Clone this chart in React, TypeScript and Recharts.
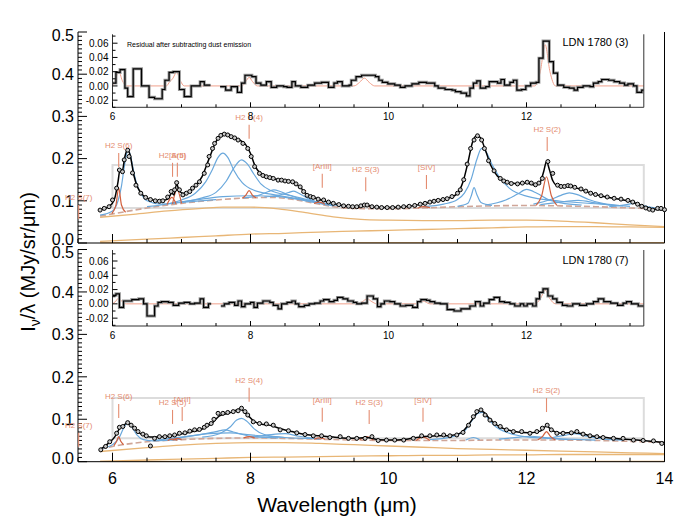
import React from "react";
import { ComposedChart, Line, Scatter, XAxis, YAxis, ReferenceArea } from "recharts";

type Pt = [number, number | null];
const font = "'Liberation Sans', Arial, Helvetica, sans-serif";

// ---------- axis ticks ----------
const xMainTicks = [5.5, 6, 6.5, 7, 7.5, 8, 8.5, 9, 9.5, 10, 10.5, 11, 11.5, 12, 12.5, 13, 13.5, 14];
const xMainLabels = [6, 8, 10, 12, 14];
const xInsetTicks = [6, 6.5, 7, 7.5, 8, 8.5, 9, 9.5, 10, 10.5, 11, 11.5, 12, 12.5, 13, 13.5];
const xInsetLabels = [6, 8, 10, 12];
const yMainLabels = [0, 0.1, 0.2, 0.3, 0.4, 0.5];
const yMainTicks = Array.from({ length: 51 }, (_, i) => i / 100);
const yInsetLabels = [-0.02, 0, 0.02, 0.04, 0.06];
const yInsetTicks = [-0.03, -0.02, -0.01, 0, 0.01, 0.02, 0.03, 0.04, 0.05, 0.06, 0.07];

// ---------- LDN 1780 (3) ----------
const topPoints: Pt[] = [
  [5.82, 0.078], [5.88, 0.082], [5.95, 0.086], [6.0, 0.102], [6.06, 0.13], [6.1, 0.173], [6.145, 0.169],
  [6.17, 0.197], [6.22, 0.22], [6.24, 0.205], [6.29, 0.166], [6.34, 0.137], [6.41, 0.118], [6.48, 0.108],
  [6.55, 0.103], [6.62, 0.1], [6.68, 0.099], [6.73, 0.1], [6.8, 0.109], [6.85, 0.122], [6.9, 0.126],
  [6.93, 0.143], [6.97, 0.126], [7.02, 0.114], [7.07, 0.118], [7.12, 0.122], [7.16, 0.13], [7.21, 0.137],
  [7.26, 0.145], [7.33, 0.165], [7.38, 0.185], [7.4, 0.205], [7.45, 0.224], [7.48, 0.236], [7.53, 0.248],
  [7.57, 0.255], [7.62, 0.258], [7.67, 0.256], [7.72, 0.252], [7.77, 0.249], [7.82, 0.244], [7.89, 0.236],
  [7.96, 0.224], [8.01, 0.205], [8.06, 0.181], [8.13, 0.165], [8.18, 0.16], [8.23, 0.157], [8.28, 0.155],
  [8.33, 0.153], [8.4, 0.149], [8.45, 0.149], [8.5, 0.147], [8.55, 0.146], [8.61, 0.145], [8.66, 0.14],
  [8.72, 0.133], [8.77, 0.122], [8.82, 0.113], [8.87, 0.11], [8.91, 0.108], [8.98, 0.104], [9.06, 0.102],
  [9.13, 0.097], [9.2, 0.094], [9.28, 0.091], [9.35, 0.088], [9.42, 0.087], [9.48, 0.086], [9.54, 0.086],
  [9.6, 0.088], [9.65, 0.09], [9.69, 0.09], [9.76, 0.086], [9.83, 0.085], [9.9, 0.084], [9.98, 0.084],
  [10.06, 0.084], [10.14, 0.085], [10.22, 0.086], [10.3, 0.087], [10.38, 0.089], [10.46, 0.092],
  [10.53, 0.094], [10.6, 0.097], [10.66, 0.099], [10.72, 0.101], [10.79, 0.103], [10.85, 0.105],
  [10.92, 0.11], [11.0, 0.118], [11.04, 0.126], [11.09, 0.15], [11.14, 0.187], [11.19, 0.224],
  [11.24, 0.244], [11.29, 0.254], [11.35, 0.244], [11.39, 0.224], [11.45, 0.195], [11.53, 0.171],
  [11.62, 0.153], [11.67, 0.147], [11.72, 0.144], [11.78, 0.141], [11.87, 0.14], [11.94, 0.142],
  [12.01, 0.144], [12.07, 0.142], [12.13, 0.138], [12.18, 0.142], [12.23, 0.153], [12.31, 0.193],
  [12.38, 0.165], [12.45, 0.137], [12.5, 0.134], [12.55, 0.134], [12.6, 0.136], [12.64, 0.135],
  [12.7, 0.132], [12.79, 0.128], [12.86, 0.123], [12.93, 0.118], [13.0, 0.115], [13.08, 0.112],
  [13.17, 0.109], [13.27, 0.106], [13.37, 0.104], [13.47, 0.101], [13.54, 0.097], [13.61, 0.092],
  [13.67, 0.087], [13.73, 0.083], [13.78, 0.08], [13.83, 0.078], [13.9, 0.082], [13.95, 0.082], [14.0, 0.079],
];
const topFit: Pt[] = [
  [5.82, 0.078], [5.95, 0.086], [6.03, 0.105], [6.08, 0.145], [6.11, 0.175], [6.14, 0.17], [6.18, 0.205],
  [6.22, 0.222], [6.26, 0.205], [6.31, 0.16], [6.37, 0.13], [6.45, 0.112], [6.55, 0.103], [6.7, 0.1],
  [6.8, 0.104], [6.86, 0.118], [6.89, 0.114], [6.93, 0.14], [6.97, 0.122], [7.05, 0.117], [7.2, 0.135],
  [7.3, 0.158], [7.4, 0.2], [7.5, 0.24], [7.58, 0.256], [7.65, 0.258], [7.75, 0.251], [7.85, 0.243],
  [7.93, 0.233], [8.0, 0.212], [8.06, 0.185], [8.13, 0.167], [8.25, 0.157], [8.4, 0.15], [8.55, 0.146],
  [8.63, 0.143], [8.72, 0.132], [8.82, 0.115], [8.95, 0.106], [9.1, 0.098], [9.3, 0.09], [9.5, 0.086],
  [9.66, 0.09], [9.8, 0.085], [10.0, 0.084], [10.3, 0.087], [10.5, 0.093], [10.7, 0.1], [10.9, 0.108],
  [11.0, 0.118], [11.08, 0.145], [11.15, 0.19], [11.22, 0.24], [11.28, 0.254], [11.33, 0.25], [11.4, 0.222],
  [11.48, 0.185], [11.58, 0.158], [11.7, 0.145], [11.85, 0.141], [12.0, 0.142], [12.12, 0.138],
  [12.2, 0.145], [12.25, 0.17], [12.29, 0.193], [12.33, 0.175], [12.38, 0.148], [12.45, 0.136],
  [12.6, 0.135], [12.75, 0.129], [12.9, 0.12], [13.1, 0.111], [13.3, 0.105], [13.5, 0.099], [13.65, 0.09],
  [13.8, 0.082], [14.0, 0.078],
];
const topBase: Pt[] = [
  [5.82, 0.064], [6.0, 0.069], [6.5, 0.083], [7.0, 0.094], [7.5, 0.102], [8.0, 0.107], [8.3, 0.108],
  [8.6, 0.104], [8.9, 0.095], [9.2, 0.086], [9.5, 0.082], [10.0, 0.081], [10.5, 0.083], [11.0, 0.086],
  [11.5, 0.088], [12.0, 0.089], [12.5, 0.088], [13.0, 0.086], [13.5, 0.083], [14.0, 0.08],
];
const topPah62: Pt[] = [[5.82, 0.066], [6.0, 0.076], [6.08, 0.1], [6.13, 0.135], [6.17, 0.18], [6.21, 0.215], [6.23, 0.219], [6.26, 0.207], [6.3, 0.175], [6.35, 0.14], [6.42, 0.115], [6.5, 0.1], [6.7, 0.092], [7.0, 0.096], [7.5, 0.103]];
const topPah76: Pt[] = [[6.5, 0.086], [7.0, 0.102], [7.2, 0.118], [7.35, 0.145], [7.45, 0.175], [7.53, 0.203], [7.6, 0.213], [7.67, 0.203], [7.76, 0.172], [7.88, 0.143], [8.05, 0.125], [8.4, 0.113], [8.9, 0.099], [9.4, 0.086]];
const topPah78: Pt[] = [[7.0, 0.097], [7.3, 0.107], [7.5, 0.12], [7.65, 0.147], [7.76, 0.178], [7.87, 0.197], [7.95, 0.188], [8.05, 0.163], [8.15, 0.14], [8.3, 0.124], [8.6, 0.112], [9.0, 0.096], [9.5, 0.085]];
const topPah83: Pt[] = [[7.9, 0.107], [8.12, 0.113], [8.26, 0.122], [8.34, 0.126], [8.43, 0.122], [8.56, 0.113], [8.8, 0.101]];
const topPah86: Pt[] = [[8.2, 0.109], [8.45, 0.115], [8.56, 0.12], [8.62, 0.123], [8.7, 0.118], [8.85, 0.104], [9.1, 0.091]];
const topPah77b: Pt[] = [[6.8, 0.093], [7.2, 0.102], [7.6, 0.11], [8.0, 0.112], [8.4, 0.11], [8.8, 0.1], [9.2, 0.088]];
const topPah112: Pt[] = [[11.0, 0.087], [11.15, 0.094], [11.2, 0.112], [11.24, 0.131], [11.28, 0.115], [11.34, 0.096], [11.5, 0.089]];
const topPah113: Pt[] = [[10.5, 0.086], [10.8, 0.092], [11.0, 0.103], [11.1, 0.118], [11.2, 0.152], [11.28, 0.198], [11.35, 0.224], [11.42, 0.214], [11.5, 0.186], [11.6, 0.158], [11.75, 0.13], [12.0, 0.111], [12.5, 0.099], [13.0, 0.093], [13.5, 0.087]];
const topPah120: Pt[] = [[11.4, 0.09], [11.7, 0.102], [11.87, 0.116], [12.0, 0.127], [12.15, 0.118], [12.3, 0.104], [12.5, 0.095], [12.8, 0.09]];
const topPah126: Pt[] = [[12.1, 0.092], [12.35, 0.103], [12.5, 0.113], [12.62, 0.119], [12.75, 0.114], [12.9, 0.103], [13.1, 0.094], [13.4, 0.088]];
const topPah127: Pt[] = [[12.2, 0.091], [12.55, 0.098], [12.75, 0.101], [13.0, 0.095], [13.3, 0.088]];
const topPah135: Pt[] = [[13.2, 0.086], [13.45, 0.091], [13.55, 0.094], [13.7, 0.088], [13.9, 0.082]];
const topRedS6: Pt[] = [[5.99, 0.07], [6.05, 0.09], [6.09, 0.13], [6.13, 0.09], [6.19, 0.073]];
const topRedS5: Pt[] = [[6.79, 0.091], [6.86, 0.108], [6.92, 0.093]];
const topRedAr2: Pt[] = [[6.87, 0.093], [6.935, 0.127], [7.0, 0.094]];
const topRedS4: Pt[] = [[7.88, 0.106], [7.93, 0.113], [7.98, 0.124], [8.03, 0.113], [8.08, 0.107]];
const topRedAr3: Pt[] = [[8.92, 0.094], [9.0, 0.097], [9.08, 0.092]];
const topRedS3: Pt[] = [[9.56, 0.082], [9.66, 0.091], [9.76, 0.082]];
const topRedS4b: Pt[] = [[10.43, 0.083], [10.51, 0.086], [10.6, 0.084]];
const topRedS2: Pt[] = [[12.14, 0.089], [12.22, 0.112], [12.29, 0.157], [12.36, 0.112], [12.44, 0.089]];
const topOrangeHi: Pt[] = [[5.82, 0.061], [6.3, 0.068], [6.8, 0.076], [7.3, 0.082], [7.6, 0.085], [8.0, 0.085], [8.4, 0.081], [8.8, 0.072], [9.2, 0.062], [9.6, 0.056], [10.0, 0.054], [10.5, 0.053], [11.0, 0.053], [11.5, 0.054], [12.0, 0.054], [12.5, 0.052], [13.0, 0.048], [13.5, 0.043], [14.0, 0.039]];
const topOrangeLo: Pt[] = [[5.82, 0.004], [6.5, 0.009], [7.0, 0.013], [7.5, 0.017], [8.0, 0.021], [8.5, 0.023], [9.0, 0.026], [9.5, 0.028], [10.0, 0.03], [10.5, 0.032], [11.0, 0.034], [11.5, 0.036], [12.0, 0.038], [12.5, 0.039], [13.0, 0.039], [13.5, 0.038], [14.0, 0.037]];
const topOrangeZero: Pt[] = [[5.82, 0.001], [14.0, 0.001]];
const topBox = [6.0, 13.7, 0.083, 0.185];
const topTagNames = ["H2 S(7)", "H2 S(6)", "H2 S(5)", "[ArII]", "H2 S(4)", "[ArIII]", "H2 S(3)", "[SIV]", "H2 S(2)"];
const topTagX = [5.51, 6.09, 6.87, 6.94, 7.98, 9.04, 9.67, 10.55, 12.3];
const topTagY = [0.09, 0.213, 0.19, 0.19, 0.28, 0.164, 0.156, 0.161, 0.251];
const topResid: Pt[] = [
  [6.0, 0.004], [6.05, 0.019], [6.11, 0.023], [6.18, -0.003], [6.22, -0.015], [6.3, 0.024], [6.42, 0.0],
  [6.53, -0.016], [6.61, -0.018], [6.72, -0.005], [6.76, 0.008], [6.82, 0.019], [6.88, 0.02], [6.97, -0.005],
  [7.04, -0.015], [7.14, 0.0], [7.27, 0.006], [7.33, 0.001], [7.42, 0.001], [7.45, null], [7.56, -0.001],
  [7.64, -0.006], [7.72, -0.001], [7.81, -0.009], [7.87, 0.004], [7.92, 0.015], [8.02, 0.013], [8.08, 0.004],
  [8.15, 0.001], [8.23, 0.006], [8.3, -0.002], [8.38, 0.0], [8.48, -0.001], [8.53, -0.002], [8.6, 0.006],
  [8.65, 0.0], [8.73, -0.002], [8.83, 0.001], [8.93, 0.004], [9.03, 0.005], [9.13, -0.002], [9.21, 0.004],
  [9.26, 0.006], [9.33, 0.0], [9.43, 0.001], [9.46, 0.008], [9.53, 0.013], [9.61, 0.015], [9.81, 0.013],
  [9.86, 0.008], [9.91, 0.005], [9.99, 0.003], [10.09, 0.001], [10.17, -0.002], [10.24, 0.0], [10.34, 0.003],
  [10.44, 0.005], [10.55, 0.004], [10.67, 0.0], [10.72, -0.003], [10.82, -0.005], [10.92, -0.006],
  [10.97, -0.008], [11.05, -0.01], [11.13, -0.014], [11.18, -0.003], [11.23, 0.004], [11.28, 0.007],
  [11.33, -0.003], [11.41, -0.001], [11.46, 0.006], [11.53, 0.006], [11.58, 0.004], [11.63, 0.009],
  [11.68, 0.001], [11.76, 0.005], [11.81, 0.008], [11.86, -0.006], [11.93, -0.005], [11.99, 0.0],
  [12.06, 0.004], [12.14, 0.005], [12.18, 0.039], [12.24, 0.063], [12.33, 0.034], [12.39, 0.018],
  [12.45, 0.001], [12.54, -0.002], [12.62, -0.003], [12.69, -0.006], [12.74, -0.002], [12.82, 0.0],
  [12.92, -0.001], [12.97, 0.004], [13.04, 0.006], [13.09, 0.009], [13.19, 0.008], [13.27, 0.006],
  [13.35, 0.004], [13.42, 0.001], [13.47, 0.003], [13.55, 0.0], [13.6, -0.009], [13.67, -0.006], [13.7, -0.006],
];
const topResidModel: Pt[] = [
  [6.0, 0], [6.04, 0.008], [6.09, 0.021], [6.14, 0.008], [6.2, 0], [6.78, 0], [6.83, 0.006], [6.87, 0.01],
  [6.93, 0.019], [6.98, 0.008], [7.04, 0], [7.88, 0], [7.93, 0.006], [7.98, 0.012], [8.03, 0.006], [8.1, 0],
  [9.5, 0], [9.58, 0.005], [9.65, 0.011], [9.72, 0.005], [9.8, 0], [12.12, 0], [12.2, 0.02], [12.27, 0.058],
  [12.34, 0.02], [12.42, 0], [13.7, 0],
];

// ---------- LDN 1780 (7) ----------
const botPoints: Pt[] = [
  [5.83, 0.028], [5.9, 0.036], [5.96, 0.047], [6.06, 0.067], [6.1, 0.081], [6.15, 0.083], [6.22, 0.092],
  [6.27, 0.086], [6.32, 0.079], [6.37, 0.071], [6.44, 0.065], [6.49, 0.061], [6.55, 0.037], [6.61, 0.055],
  [6.68, 0.059], [6.76, 0.059], [6.83, 0.061], [6.9, 0.063], [6.97, 0.067], [7.05, 0.068], [7.12, 0.072],
  [7.19, 0.075], [7.26, 0.076], [7.33, 0.081], [7.37, 0.086], [7.43, 0.09], [7.47, 0.1], [7.53, 0.114],
  [7.6, 0.114], [7.67, 0.116], [7.75, 0.118], [7.82, 0.12], [7.87, 0.126], [7.92, 0.118], [7.96, 0.11],
  [8.04, 0.094], [8.13, 0.09], [8.23, 0.089], [8.33, 0.086], [8.43, 0.075], [8.55, 0.073], [8.67, 0.068],
  [8.79, 0.064], [8.91, 0.061], [9.03, 0.061], [9.15, 0.057], [9.3, 0.059], [9.42, 0.055], [9.54, 0.055],
  [9.66, 0.055], [9.76, 0.059], [9.85, 0.05], [9.97, 0.051], [10.09, 0.051], [10.22, 0.051], [10.36, 0.055],
  [10.48, 0.061], [10.6, 0.061], [10.7, 0.063], [10.8, 0.063], [10.89, 0.061], [10.99, 0.063],
  [11.08, 0.069], [11.16, 0.086], [11.23, 0.106], [11.28, 0.118], [11.34, 0.122], [11.4, 0.11],
  [11.47, 0.098], [11.54, 0.09], [11.62, 0.083], [11.71, 0.075], [11.81, 0.071], [11.93, 0.071],
  [12.05, 0.067], [12.15, 0.071], [12.23, 0.079], [12.3, 0.086], [12.36, 0.075], [12.44, 0.067],
  [12.53, 0.067], [12.65, 0.068], [12.73, 0.071], [12.82, 0.065], [12.92, 0.061], [13.02, 0.059],
  [13.11, 0.057], [13.26, 0.055], [13.4, 0.055], [13.55, 0.051], [13.69, 0.05], [13.84, 0.049], [13.96, 0.043],
];
const botFit: Pt[] = [
  [5.82, 0.028], [5.95, 0.045], [6.03, 0.058], [6.08, 0.072], [6.11, 0.08], [6.15, 0.083], [6.2, 0.091],
  [6.23, 0.092], [6.28, 0.085], [6.35, 0.073], [6.45, 0.062], [6.55, 0.058], [6.7, 0.059], [6.9, 0.062],
  [7.1, 0.069], [7.3, 0.077], [7.45, 0.092], [7.55, 0.108], [7.65, 0.113], [7.75, 0.118], [7.84, 0.124],
  [7.9, 0.12], [7.97, 0.108], [8.05, 0.095], [8.15, 0.089], [8.3, 0.085], [8.45, 0.077], [8.6, 0.071],
  [8.8, 0.064], [9.0, 0.061], [9.2, 0.058], [9.5, 0.055], [9.68, 0.057], [9.85, 0.052], [10.1, 0.051],
  [10.3, 0.054], [10.48, 0.059], [10.7, 0.061], [10.9, 0.062], [11.05, 0.068], [11.15, 0.085],
  [11.25, 0.108], [11.32, 0.12], [11.38, 0.117], [11.47, 0.1], [11.6, 0.083], [11.8, 0.072], [12.05, 0.068],
  [12.2, 0.072], [12.29, 0.084], [12.37, 0.074], [12.5, 0.067], [12.7, 0.069], [12.9, 0.062], [13.2, 0.056],
  [13.6, 0.051], [14.0, 0.045],
];
const botBase: Pt[] = [
  [5.82, 0.03], [6.0, 0.036], [6.5, 0.047], [7.0, 0.052], [7.5, 0.055], [8.0, 0.056], [8.5, 0.055],
  [9.0, 0.053], [9.5, 0.051], [10.0, 0.05], [10.5, 0.05], [11.0, 0.05], [11.5, 0.051], [12.0, 0.051],
  [12.5, 0.051], [13.0, 0.05], [13.5, 0.048], [14.0, 0.045],
];
const botPah62: Pt[] = [[5.82, 0.031], [6.0, 0.04], [6.1, 0.058], [6.17, 0.082], [6.22, 0.091], [6.28, 0.082], [6.35, 0.064], [6.45, 0.052], [6.6, 0.049], [7.0, 0.053]];
const botPah76: Pt[] = [[6.8, 0.053], [7.2, 0.062], [7.5, 0.071], [7.63, 0.075], [7.75, 0.07], [8.0, 0.06], [8.4, 0.056]];
const botPah78: Pt[] = [[7.3, 0.058], [7.55, 0.066], [7.7, 0.081], [7.8, 0.098], [7.87, 0.102], [7.95, 0.095], [8.05, 0.078], [8.2, 0.064], [8.5, 0.057], [9.0, 0.054]];
const botPah86: Pt[] = [[8.0, 0.057], [8.3, 0.064], [8.5, 0.066], [8.7, 0.06], [9.0, 0.054]];
const botPah77b: Pt[] = [[6.6, 0.05], [7.0, 0.058], [7.4, 0.066], [7.7, 0.068], [8.0, 0.063], [8.5, 0.057]];
const botPah112: Pt[] = [[11.12, 0.051], [11.23, 0.057], [11.32, 0.052]];
const botPah113: Pt[] = [[10.6, 0.052], [10.9, 0.058], [11.1, 0.072], [11.2, 0.095], [11.3, 0.114], [11.36, 0.116], [11.45, 0.1], [11.55, 0.083], [11.7, 0.07], [11.9, 0.061], [12.2, 0.056], [12.6, 0.053], [13.0, 0.051]];
const botPah120: Pt[] = [[11.6, 0.053], [11.9, 0.058], [12.05, 0.06], [12.3, 0.056], [12.6, 0.052]];
const botPah127: Pt[] = [[12.3, 0.054], [12.55, 0.062], [12.7, 0.066], [12.85, 0.061], [13.1, 0.054], [13.4, 0.051]];
const botRedS6: Pt[] = [[6.02, 0.038], [6.06, 0.048], [6.09, 0.059], [6.12, 0.048], [6.16, 0.04]];
const botRedS5: Pt[] = [[6.8, 0.05], [6.87, 0.053], [6.94, 0.051]];
const botRedAr2: Pt[] = [[6.88, 0.051], [6.94, 0.055], [7.0, 0.052]];
const botRedS4: Pt[] = [[7.9, 0.056], [7.98, 0.059], [8.06, 0.056]];
const botRedAr3: Pt[] = [[8.92, 0.053], [9.0, 0.056], [9.08, 0.053]];
const botRedS3: Pt[] = [[9.58, 0.051], [9.68, 0.059], [9.78, 0.051]];
const botRedS4b: Pt[] = [[10.4, 0.05], [10.5, 0.058], [10.6, 0.05]];
const botRedS2: Pt[] = [[12.16, 0.051], [12.23, 0.059], [12.29, 0.071], [12.35, 0.059], [12.42, 0.051]];
const botOrangeHi: Pt[] = [[5.82, 0.024], [6.5, 0.033], [7.0, 0.039], [7.5, 0.043], [8.0, 0.045], [8.5, 0.045], [9.0, 0.043], [9.5, 0.04], [10.0, 0.037], [10.5, 0.034], [11.0, 0.031], [11.5, 0.029], [12.0, 0.027], [12.5, 0.025], [13.0, 0.023], [13.5, 0.021], [14.0, 0.019]];
const botOrangeLo: Pt[] = [[5.82, 0.001], [6.5, 0.004], [7.0, 0.006], [7.5, 0.008], [8.0, 0.01], [8.5, 0.011], [9.0, 0.012], [9.5, 0.013], [10.0, 0.014], [10.5, 0.015], [11.0, 0.015], [11.5, 0.016], [12.0, 0.016], [12.5, 0.017], [13.0, 0.017], [13.5, 0.017], [14.0, 0.017]];
const botOrangeZero: Pt[] = [[5.82, 0.001], [14.0, 0.001]];
const botBox = [6.0, 13.7, 0.055, 0.15];
const botTagNames = ["H2 S(7)", "H2 S(6)", "H2 S(5)", "[ArII]", "H2 S(4)", "[ArIII]", "H2 S(3)", "[SIV]", "H2 S(2)"];
const botTagX = [5.51, 6.09, 6.87, 7.01, 7.98, 9.04, 9.72, 10.5, 12.29];
const botTagY = [0.068, 0.136, 0.122, 0.129, 0.174, 0.127, 0.122, 0.127, 0.15];
const botResid: Pt[] = [
  [6.0, 0.012], [6.05, 0.014], [6.1, -0.005], [6.16, 0.004], [6.28, 0.006], [6.38, 0.007], [6.45, 0.0],
  [6.5, -0.017], [6.61, -0.003], [6.66, 0.002], [6.71, 0.003], [6.81, 0.002], [6.88, -0.002], [6.96, 0.001],
  [7.04, 0.002], [7.12, 0.0], [7.19, 0.001], [7.27, 0.007], [7.32, -0.005], [7.39, 0.0], [7.43, 0.0],
  [7.46, null], [7.57, -0.003], [7.62, 0.0], [7.69, 0.002], [7.77, -0.002], [7.82, 0.004], [7.87, -0.004],
  [7.92, 0.0], [8.0, 0.002], [8.05, -0.005], [8.1, 0.001], [8.18, 0.004], [8.28, 0.002], [8.33, -0.002],
  [8.4, -0.007], [8.45, 0.0], [8.53, 0.002], [8.6, 0.004], [8.65, 0.0], [8.7, -0.004], [8.78, -0.002],
  [8.85, 0.0], [8.93, 0.001], [9.01, 0.004], [9.06, 0.006], [9.14, 0.003], [9.21, 0.005], [9.26, 0.009],
  [9.34, 0.007], [9.41, 0.004], [9.49, 0.002], [9.54, 0.0], [9.61, 0.001], [9.69, 0.011], [9.78, 0.007],
  [9.84, -0.004], [9.89, 0.0], [9.94, 0.004], [10.02, 0.003], [10.09, 0.0], [10.17, -0.003], [10.25, -0.002],
  [10.35, -0.005], [10.42, 0.003], [10.47, 0.006], [10.55, 0.005], [10.6, 0.003], [10.67, 0.001],
  [10.75, 0.0], [10.85, -0.008], [10.95, -0.01], [11.05, -0.007], [11.18, -0.003], [11.26, 0.003],
  [11.33, -0.003], [11.38, 0.001], [11.46, 0.006], [11.53, 0.009], [11.61, 0.003], [11.68, 0.002],
  [11.76, 0.0], [11.83, -0.003], [11.91, 0.0], [11.96, -0.003], [12.01, 0.0], [12.09, -0.003],
  [12.14, 0.007], [12.19, 0.016], [12.24, 0.021], [12.31, 0.011], [12.38, 0.007], [12.44, 0.002],
  [12.52, -0.002], [12.59, -0.003], [12.67, 0.0], [12.77, -0.002], [12.87, 0.0], [12.97, 0.003],
  [13.04, 0.007], [13.12, 0.003], [13.22, 0.001], [13.32, -0.002], [13.4, 0.001], [13.45, 0.003],
  [13.52, 0.0], [13.62, -0.003], [13.7, -0.003],
];
const botResidModel: Pt[] = [
  [6.0, 0], [6.04, 0.003], [6.09, 0.008], [6.14, 0.003], [6.2, 0], [9.55, 0], [9.62, 0.003], [9.69, 0.007],
  [9.76, 0.003], [9.83, 0], [10.4, 0], [10.5, 0.004], [10.6, 0], [12.12, 0], [12.2, 0.007], [12.27, 0.019],
  [12.34, 0.007], [12.42, 0], [13.7, 0],
];

// ---------- layout ----------
const plotLeft = 78;
const plotRight = 664.5;
const xLo = 5.5;
const xHi = 14;
const pxPerUm = (plotRight - plotLeft) / (xHi - xLo);
// wider domain for the tag layer so labels near the left edge are not clipped
const tagDomain: [number, number] = [xLo - plotLeft / pxPerUm, xHi + (675 - plotRight) / pxPerUm];

// ---------- helpers ----------
const xy = (a: Pt[]) => a.map(([x, y]) => ({ x, y }));
const tags = (names: string[], xs: number[], ys: number[]) => names.map((name, i) => ({ name, x: xs[i], y: ys[i] }));
const isIn = (list: number[], v: number) => list.some((l) => Math.abs(l - v) < 1e-6);

const C = {
  fit: "#000000",
  pah: "#6aa8dc",
  red: "#d2603e",
  tag: "#e48c70",
  orange: "#e8b676",
  base: "#cfa597",
  box: "#dcdcdc",
  model: "#f0a08c",
};

const xTick = (labels: number[], down: boolean, big: number, small: number, text?: { size: number; dy: number }) =>
  (p: any) => {
    const v = p.payload.value;
    const major = isIn(labels, v);
    const len = major ? big : small;
    return (
      <g>
        <line x1={p.x} x2={p.x} y1={p.y} y2={p.y + (down ? len : -len)} stroke="#000" strokeWidth={1} />
        {text && major && (
          <text x={p.x} y={p.y + text.dy} textAnchor="middle" fontSize={text.size} fontFamily={font} fill="#000">
            {String(v)}
          </text>
        )}
      </g>
    );
  };

const yTick = (labels: number[], right: boolean, big: number, small: number, text?: { size: number; digits: number; nudge?: boolean }) =>
  (p: any) => {
    const v = p.payload.value;
    const major = isIn(labels, v);
    const len = major ? big : small;
    let nudge = 0;
    if (text?.nudge) {
      if (v === labels[0]) nudge = -3.5;
      if (v === labels[labels.length - 1]) nudge = 3;
    }
    return (
      <g>
        <line x1={p.x} x2={p.x + (right ? -len : len)} y1={p.y} y2={p.y} stroke="#000" strokeWidth={1} />
        {text && major && (
          <text x={p.x - 4} y={p.y + nudge} dy={text.size * 0.36} textAnchor="end" fontSize={text.size} fontFamily={font} fill="#000">
            {v.toFixed(text.digits)}
          </text>
        )}
      </g>
    );
  };

const Dot = (p: any) => <circle cx={p.cx} cy={p.cy} r={2} fill="#c8c8c8" stroke="#000" strokeWidth={1} />;

// line identification marker: short tick with the name above it
const Tag = (p: any) => (
  <g>
    <line x1={p.cx} x2={p.cx} y1={p.cy} y2={p.cy + 14} stroke={C.tag} strokeWidth={1.1} />
    <text x={p.cx} y={p.cy - 5} textAnchor="middle" fontSize={8} fontFamily={font} fill={C.tag}>
      {p.payload?.name}
    </text>
  </g>
);

type PanelProps = {
  top: number;
  height: number;
  mTop: number;
  xHeight: number;
  showX: boolean;
  points: Pt[];
  fit: Pt[];
  base: Pt[];
  pahs: Pt[][];
  reds: Pt[][];
  oranges: Pt[][];
  box: number[];
  tagData: { name: string; x: number; y: number }[];
};

const MainPanel = (p: PanelProps) => (
  <>
    <div style={{ position: "absolute", left: 0, top: p.top }}>
      <ComposedChart width={675} height={p.height} margin={{ top: p.mTop, right: 675 - plotRight - 10, bottom: 0, left: plotLeft - 40 }}>
        <XAxis
          dataKey="x" type="number" domain={[xLo, xHi]} ticks={xMainTicks} interval={0}
          height={p.xHeight} tickSize={0} tickMargin={0} axisLine={{ stroke: "#000" }} tickLine={false}
          tick={xTick(xMainLabels, false, 9, 4, p.showX ? { size: 16, dy: 22 } : undefined)}
        />
        <XAxis
          xAxisId="t" orientation="top" dataKey="x" type="number" domain={[xLo, xHi]} ticks={xMainTicks} interval={0}
          height={0} tickSize={0} tickMargin={0} axisLine={{ stroke: "#000" }} tickLine={false}
          tick={xTick(xMainLabels, true, 9, 4)}
        />
        <YAxis
          dataKey="y" type="number" domain={[0, 0.5]} ticks={yMainTicks} interval={0} width={40}
          tickSize={0} tickMargin={0} axisLine={{ stroke: "#000" }} tickLine={false}
          tick={yTick(yMainLabels, false, 9, 4, { size: 16, digits: 1, nudge: true })}
        />
        <YAxis
          yAxisId="r" orientation="right" type="number" domain={[0, 0.5]} ticks={yMainTicks} interval={0} width={10}
          tickSize={0} tickMargin={0} axisLine={{ stroke: "#000" }} tickLine={false}
          tick={yTick(yMainLabels, true, 9, 4)}
        />
        <ReferenceArea x1={p.box[0]} x2={p.box[1]} y1={p.box[2]} y2={p.box[3]} fill="none" fillOpacity={0} stroke={C.box} strokeWidth={2} />
        {p.oranges.map((d, i) => (
          <Line key={"o" + i} data={xy(d)} dataKey="y" type="monotone" stroke={C.orange} strokeWidth={1.3} dot={false} isAnimationActive={false} />
        ))}
        <Line data={xy(p.base)} dataKey="y" type="monotone" stroke={C.base} strokeWidth={1.6} strokeDasharray="6 3" dot={false} isAnimationActive={false} />
        {p.pahs.map((d, i) => (
          <Line key={"p" + i} data={xy(d)} dataKey="y" type="monotone" stroke={C.pah} strokeWidth={1.2} dot={false} isAnimationActive={false} />
        ))}
        {p.reds.map((d, i) => (
          <Line key={"r" + i} data={xy(d)} dataKey="y" type="monotone" stroke={C.red} strokeWidth={1.2} dot={false} isAnimationActive={false} />
        ))}
        <Line data={xy(p.fit)} dataKey="y" type="monotone" stroke={C.fit} strokeWidth={1.5} dot={false} isAnimationActive={false} />
        <Scatter data={xy(p.points)} dataKey="y" shape={Dot} isAnimationActive={false} />
      </ComposedChart>
    </div>
    <div style={{ position: "absolute", left: 0, top: p.top }}>
      <ComposedChart width={675} height={p.height} margin={{ top: p.mTop, right: 0, bottom: p.xHeight, left: 0 }}>
        <XAxis dataKey="x" type="number" domain={tagDomain} hide />
        <YAxis dataKey="y" type="number" domain={[0, 0.5]} hide />
        <Scatter data={p.tagData} dataKey="y" shape={Tag} isAnimationActive={false} />
      </ComposedChart>
    </div>
  </>
);

type InsetProps = { top: number; mTop: number; xHeight: number; domain: [number, number]; resid: Pt[]; model: Pt[] };

const Inset = (p: InsetProps) => (
  <div style={{ position: "absolute", left: 0, top: p.top }}>
    <ComposedChart width={675} height={130} margin={{ top: p.mTop, right: 30.2, bottom: 0, left: 72.5 }}>
      <XAxis
        dataKey="x" type="number" domain={[6, 13.7]} ticks={xInsetTicks} interval={0} allowDataOverflow
        height={p.xHeight} tickSize={0} tickMargin={0} axisLine={{ stroke: "#333" }} tickLine={false}
        tick={xTick(xInsetLabels, false, 5, 3, { size: 10, dy: 13 })}
      />
      <XAxis
        xAxisId="t" orientation="top" dataKey="x" type="number" domain={[6, 13.7]} ticks={xInsetTicks} interval={0}
        height={0} tickSize={0} tickMargin={0} axisLine={{ stroke: "#333" }} tickLine={false}
        tick={xTick(xInsetLabels, true, 5, 3)}
      />
      <YAxis
        dataKey="y" type="number" domain={p.domain} ticks={yInsetTicks} interval={0} allowDataOverflow width={40}
        tickSize={0} tickMargin={0} axisLine={{ stroke: "#333" }} tickLine={false}
        tick={yTick(yInsetLabels, false, 5, 3, { size: 10, digits: 2 })}
      />
      <YAxis
        yAxisId="r" orientation="right" type="number" domain={p.domain} ticks={yInsetTicks} interval={0} width={1}
        tickSize={0} tickMargin={0} axisLine={{ stroke: "#333" }} tickLine={false}
        tick={yTick(yInsetLabels, true, 5, 3)}
      />
      <Line data={xy(p.model)} dataKey="y" type="monotone" stroke={C.model} strokeWidth={1} dot={false} isAnimationActive={false} />
      <Line data={xy(p.resid)} dataKey="y" type="stepAfter" stroke="#9a9a9a" strokeWidth={3} dot={false} isAnimationActive={false} />
      <Line data={xy(p.resid)} dataKey="y" type="stepAfter" stroke="#000" strokeWidth={1.2} dot={false} isAnimationActive={false} />
    </ComposedChart>
  </div>
);

export default function App() {
  return (
    <div style={{ position: "absolute", left: 0, top: 0, width: 675, height: 525, background: "#fff", fontFamily: font }}>
      <MainPanel
        top={0} height={260} mTop={32} xHeight={17} showX={false}
        points={topPoints} fit={topFit} base={topBase}
        pahs={[topPah62, topPah76, topPah78, topPah83, topPah86, topPah77b, topPah112, topPah113, topPah120, topPah126, topPah127, topPah135]}
        reds={[topRedS6, topRedS5, topRedAr2, topRedS4, topRedAr3, topRedS3, topRedS4b, topRedS2]}
        oranges={[topOrangeZero, topOrangeLo, topOrangeHi]}
        box={topBox} tagData={tags(topTagNames, topTagX, topTagY)}
      />
      <Inset top={0} mTop={34.3} xHeight={22.7} domain={[-0.03, 0.0725]} resid={topResid} model={topResidModel} />
      <MainPanel
        top={217} height={308} mTop={32.5} xHeight={63.3} showX={true}
        points={botPoints} fit={botFit} base={botBase}
        pahs={[botPah62, botPah76, botPah78, botPah86, botPah77b, botPah112, botPah113, botPah120, botPah127]}
        reds={[botRedS6, botRedS5, botRedAr2, botRedS4, botRedAr3, botRedS3, botRedS4b, botRedS2]}
        oranges={[botOrangeZero, botOrangeLo, botOrangeHi]}
        box={botBox} tagData={tags(botTagNames, botTagX, botTagY)}
      />
      <Inset top={216} mTop={34} xHeight={20} domain={[-0.031, 0.0754]} resid={botResid} model={botResidModel} />
      <svg width={675} height={525} style={{ position: "absolute", left: 0, top: 0, pointerEvents: "none" }}>
        <text x={127} y={46.5} fontSize={7} fontFamily={font} fill="#000">Residual after subtracting dust emission</text>
        <text x={628.5} y={46} textAnchor="end" fontSize={11} fontFamily={font} fill="#000">LDN 1780 (3)</text>
        <text x={628.5} y={264} textAnchor="end" fontSize={11} fontFamily={font} fill="#000">LDN 1780 (7)</text>
        <text x={337} y={512} textAnchor="middle" fontSize={21} fontFamily={font} fill="#000">Wavelength (μm)</text>
        <text x={35} y={262} transform="rotate(-90 35 262)" textAnchor="middle" fontSize={20} fontFamily={font} fill="#000">
          I<tspan dy={5} fontSize={14}>ν</tspan>
          <tspan dy={-5}>/λ (MJy/sr/μm)</tspan>
        </text>
      </svg>
    </div>
  );
}
